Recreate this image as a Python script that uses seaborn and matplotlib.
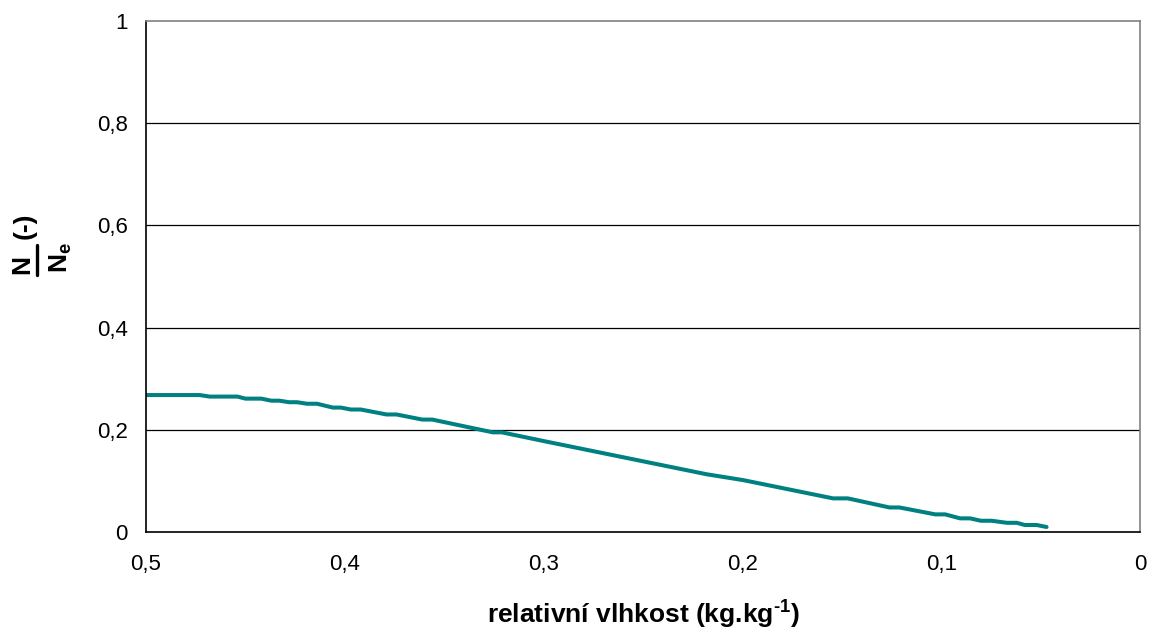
import matplotlib
matplotlib.use("Agg")
import matplotlib.pyplot as plt
from matplotlib.lines import Line2D
import seaborn as sns
import pandas as pd

# data
moisture = [0.500, 0.473, 0.468, 0.454, 0.450, 0.442, 0.437, 0.433, 0.428, 0.424,
            0.419, 0.414, 0.406, 0.402, 0.397, 0.392, 0.379, 0.374, 0.361, 0.356,
            0.3255, 0.321, 0.300, 0.218, 0.1997, 0.1544, 0.147, 0.126, 0.121,
            0.103, 0.098, 0.0905, 0.0855, 0.080, 0.0746, 0.067, 0.062, 0.058,
            0.052, 0.047]
ratio = [0.268, 0.268, 0.265, 0.265, 0.261, 0.261, 0.257, 0.257, 0.254, 0.254,
         0.251, 0.251, 0.2435, 0.2435, 0.2397, 0.2397, 0.230, 0.230, 0.220, 0.220,
         0.195, 0.195, 0.178, 0.113, 0.1016, 0.0658, 0.0658, 0.048, 0.048,
         0.0345, 0.0345, 0.0267, 0.0267, 0.022, 0.022, 0.018, 0.018, 0.0137,
         0.0137, 0.0098]
x_ticks = [0.5, 0.4, 0.3, 0.2, 0.1, 0.0]
x_tick_labels = ["0,5", "0,4", "0,3", "0,2", "0,1", "0"]
y_ticks = [0, 0.2, 0.4, 0.6, 0.8, 1.0]
y_tick_labels = ["0", "0,2", "0,4", "0,6", "0,8", "1"]

sns.set_style("white")
plt.rcParams["font.family"] = ["Liberation Sans", "DejaVu Sans"]
plt.rcParams["text.color"] = "black"
plt.rcParams["axes.labelcolor"] = "black"
plt.rcParams["mathtext.fontset"] = "custom"
plt.rcParams["mathtext.rm"] = "Liberation Sans:bold"
plt.rcParams["mathtext.bf"] = "Liberation Sans:bold"
plt.rcParams["mathtext.it"] = "Liberation Sans:bold"

df = pd.DataFrame({"x": moisture, "y": ratio})

W, H = 1156, 635
fig = plt.figure(figsize=(W / 100, H / 100), dpi=100)
ax = fig.add_axes([146 / W, 1 - 532 / H, (1140 - 146) / W, (532 - 21) / H])

sns.lineplot(data=df, x="x", y="y", ax=ax, color="#008080", linewidth=2.9,
             sort=False, estimator=None)

ax.set_xlim(0.5, 0.0)
ax.set_ylim(0, 1)
ax.set_xticks(x_ticks)
ax.set_xticklabels(x_tick_labels)
ax.set_yticks(y_ticks)
ax.set_yticklabels(y_tick_labels)
ax.tick_params(axis="both", direction="out", length=7, width=1, color="black",
               labelsize=16, labelcolor="black")
ax.tick_params(axis="y", pad=6)
ax.tick_params(axis="x", pad=9)

for yv in y_ticks[1:-1]:
    ax.axhline(yv, color="black", linewidth=0.9, zorder=0)

ax.spines["left"].set_color("black")
ax.spines["bottom"].set_color("black")
ax.spines["top"].set_color("#808080")
ax.spines["right"].set_color("#808080")
for s in ax.spines.values():
    s.set_linewidth(1.2)

ax.set_xlabel(r"relativní vlhkost (kg.kg$^{\text{-}1}$)", fontsize=19,
              fontweight="bold", labelpad=17, color="black")
ax.set_ylabel("")

# y-axis label: N over N_e (-), rotated
fs = 19
fig.text(22.5 / W, 1 - 264 / H, "N", rotation=90, ha="center", va="center",
         fontsize=fs, fontweight="bold")
fig.text(25 / W, 1 - 226 / H, "(-)", rotation=90, ha="center", va="center",
         fontsize=fs, fontweight="bold")
fig.text(61 / W, 1 - 258 / H, r"N$_\mathrm{e}$", rotation=90, ha="center",
         va="center", fontsize=fs, fontweight="bold")
fig.add_artist(Line2D([37 / W, 37 / W], [1 - 245 / H, 1 - 275 / H],
                      transform=fig.transFigure, color="black", linewidth=2.4))

fig.savefig("out.png", dpi=100)
